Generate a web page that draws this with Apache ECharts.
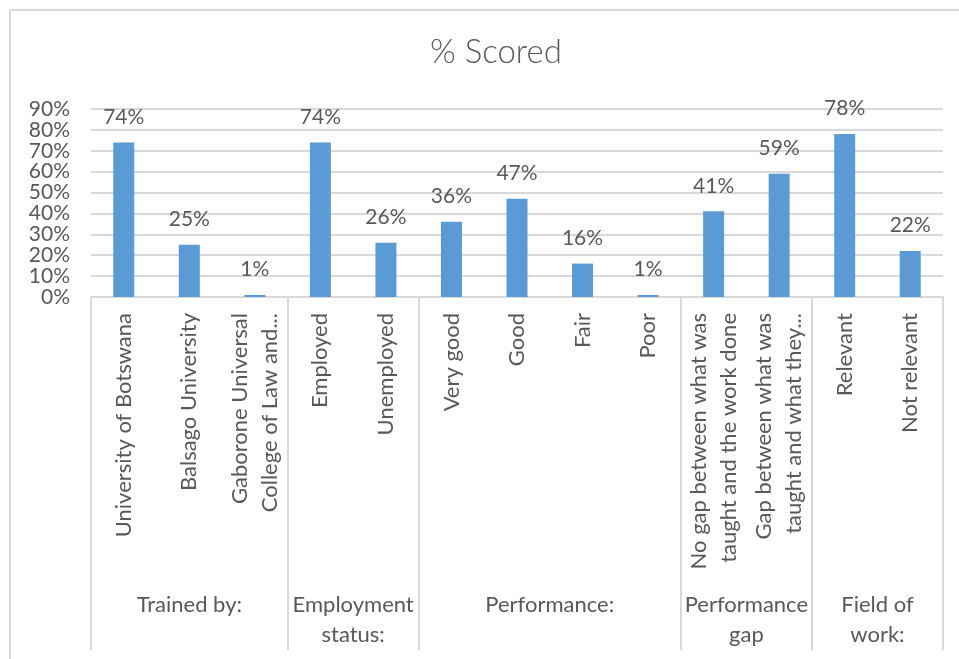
<!DOCTYPE html>
<html>
<head>
<meta charset="utf-8">
<script src="https://cdn.jsdelivr.net/npm/echarts@6/dist/echarts.min.js"></script>
<style>
html,body{margin:0;padding:0;background:#fff;}
#chart{width:959px;height:659px;}
</style>
</head>
<body>
<div id="chart"></div>
<script>
var categories = [
  'University of Botswana', 'Balsago University', 'Gaborone Universal\nCollege of Law and...',
  'Employed', 'Unemployed',
  'Very good', 'Good', 'Fair', 'Poor',
  'No gap between what was\ntaught and the work done', 'Gap between what was\ntaught and what they...',
  'Relevant', 'Not relevant'
];
var values = [74, 25, 1, 74, 26, 36, 47, 16, 1, 41, 59, 78, 22];
var groupNames = ['Trained by:', 'Employment\nstatus:', 'Performance:', 'Performance\ngap', 'Field of\nwork:'];
var groupSizes = [3, 2, 4, 2, 2];
var yTicks = [0, 10, 20, 30, 40, 50, 60, 70, 80, 90];

// build half-slot axis for group labels / separators
var slots = [];
var n = categories.length * 2 + 1;
for (var i = 0; i < n; i++) slots.push('');
var boundaries = [0];
var centers = [];
var acc = 0;
groupSizes.forEach(function (s, gi) {
  centers.push(acc * 2 + s);
  acc += s;
  boundaries.push(acc * 2);
  slots[centers[gi]] = groupNames[gi];
});

var FONT = 'Lato';
var GRAY = '#595959';
var LINE = '#d9d9d9';

var chart = echarts.init(document.getElementById('chart'));
chart.setOption({
  backgroundColor: '#ffffff',
  animation: false,
  textStyle: { fontFamily: FONT },
  title: {
    text: '% Scored',
    left: 491,
    textAlign: 'center',
    top: 31,
    textStyle: { fontFamily: FONT, fontSize: 33, fontWeight: 300, color: GRAY }
  },
  graphic: [{
    type: 'rect',
    shape: { x: 10, y: 10, width: 1000, height: 700 },
    style: { fill: 'none', stroke: LINE, lineWidth: 2 },
    silent: true,
    z: -10
  }],
  grid: { left: 91, right: 16, top: 109, bottom: 362, containLabel: false },
  xAxis: [{
    type: 'category',
    data: categories,
    axisLine: { show: true, lineStyle: { color: LINE, width: 2 } },
    axisTick: { show: false },
    axisLabel: {
      interval: 0, rotate: 90, margin: 16,
      fontFamily: FONT, fontSize: 22, lineHeight: 30, color: GRAY
    }
  }, {
    type: 'category',
    data: slots,
    boundaryGap: false,
    position: 'bottom',
    axisLine: { show: false },
    axisTick: {
      show: true,
      interval: function (idx) { return boundaries.indexOf(idx) >= 0; },
      length: 353,
      lineStyle: { color: LINE, width: 2 }
    },
    axisLabel: {
      interval: function (idx) { return centers.indexOf(idx) >= 0; },
      margin: 293,
      fontFamily: FONT, fontSize: 22, lineHeight: 30, color: GRAY, align: 'center'
    },
    splitLine: { show: false }
  }],
  yAxis: {
    type: 'value',
    min: yTicks[0],
    max: yTicks[yTicks.length - 1],
    interval: yTicks[1] - yTicks[0],
    axisLine: { show: false },
    axisTick: { show: false },
    axisLabel: {
      formatter: '{value}%', margin: 21,
      fontFamily: FONT, fontSize: 21, color: GRAY
    },
    splitLine: { show: true, lineStyle: { color: LINE, width: 2 } }
  },
  series: [{
    type: 'bar',
    data: values,
    barWidth: 21,
    itemStyle: { color: '#5b9bd5' },
    label: {
      show: true, position: 'top', distance: 15,
      formatter: '{c}%',
      fontFamily: FONT, fontSize: 21, color: GRAY
    }
  }]
});
</script>
</body>
</html>
